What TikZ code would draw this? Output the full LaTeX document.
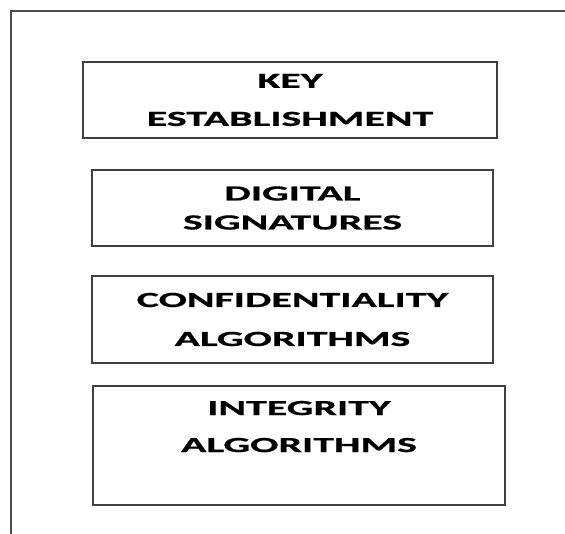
\documentclass[tikz,border=0pt]{standalone}
\usepackage{fontspec}
\newfontfamily\blockfont[FakeStretch=1.95,BoldFeatures={FakeBold=0.8}]{Carlito}
\usepackage{tikz}

\begin{document}
\begin{tikzpicture}[x=1pt,y=-1pt]
    \tikzstyle{block}=[draw=black!75,line width=1.3pt,rectangle,inner sep=0pt,align=center,font=\blockfont\bfseries\fontsize{21.5}{29}\selectfont]
    \tikzstyle{frame}=[draw=black!70,line width=1.6pt]

    \useasboundingbox (0,0) rectangle (565,534);

    \coordinate (tr) at (565,11);
    \coordinate (tl) at (11,11);
    \coordinate (bl) at (11,534);
    \path[frame] (tr) -- (tl) -- (bl);

    \node[block,minimum width=414pt,minimum height=76pt] (key) at (290,100) {KEY\\[9pt]ESTABLISHMENT};
    \node[block,minimum width=401pt,minimum height=76pt] (sig) at (292.5,208) {DIGITAL\\SIGNATURES};
    \node[block,minimum width=401pt,minimum height=87pt] (conf) at (292.5,319.5) {CONFIDENTIALITY\\[10pt]ALGORITHMS};
    \node[block,minimum width=412pt,minimum height=119pt] (integ) at (299,445.5) {INTEGRITY\\[8pt]ALGORITHMS\\[9pt]\mbox{}};

\end{tikzpicture}
\end{document}
